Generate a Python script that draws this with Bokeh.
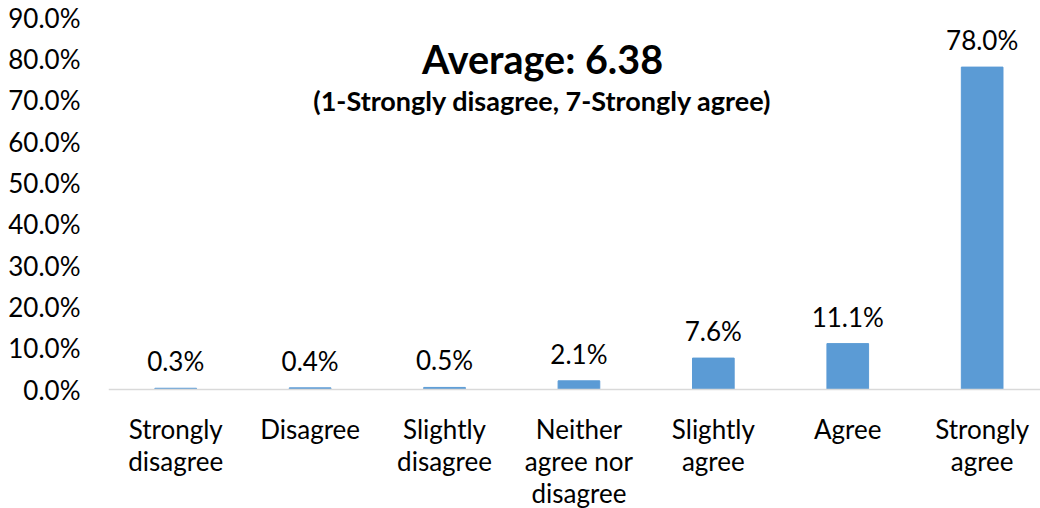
from bokeh.plotting import figure
from bokeh.models import ColumnDataSource, FixedTicker, NumeralTickFormatter, Label, Range1d, Span
from bokeh.core.properties import value
from bokeh.embed import file_html
from bokeh.resources import INLINE

categories = ["Strongly\ndisagree", "Disagree", "Slightly\ndisagree", "Neither\nagree nor\ndisagree",
              "Slightly\nagree", "Agree", "Strongly\nagree"]
shares = [0.003, 0.004, 0.005, 0.021, 0.076, 0.111, 0.78]
y_ticks = [0.0, 0.1, 0.2, 0.3, 0.4, 0.5, 0.6, 0.7, 0.8, 0.9]
title_text = "Average: 6.38"
subtitle_text = "(1-Strongly disagree, 7-Strongly agree)"

FONT = "Lato"

xs = list(range(len(categories)))
src = ColumnDataSource(dict(x=xs, y=shares, base=[0.0] * len(xs), cat=categories,
                            lab=[f"{v*100:.1f}%" for v in shares]))

# frame: 108px left border, 17px top border; 0.9 spans 372px, room below 0 for category labels
p = figure(width=1040, height=508, output_backend="svg", toolbar_location=None,
           x_range=Range1d(-0.5, 6.434), y_range=Range1d(-0.2879, 0.9),
           min_border_left=108, min_border_right=0, min_border_top=17, min_border_bottom=0)
p.outline_line_color = None
p.xgrid.visible = False
p.ygrid.visible = False
p.xaxis.visible = False
p.background_fill_color = "white"
p.border_fill_color = "white"

p.add_layout(Span(location=0, dimension="width", line_color="#d9d9d9", line_width=1.5))

p.vbar(x="x", top="y", width=0.31, source=src, color="#5b9bd5")
p.text(x="x", y="y", text="lab", source=src, text_align="center", text_baseline="bottom",
       y_offset=-11, text_font=value(FONT), text_font_size="26px", text_color="black")
p.text(x="x", y="base", text="cat", source=src, text_align="center", text_baseline="top",
       y_offset=23, text_font=value(FONT), text_font_size="26px", text_line_height=1.01,
       text_color="black")

p.yaxis.ticker = FixedTicker(ticks=y_ticks)
p.yaxis.formatter = NumeralTickFormatter(format="0.0%")
p.yaxis.axis_line_color = None
p.yaxis.major_tick_line_color = None
p.yaxis.minor_tick_line_color = None
p.yaxis.major_label_standoff = 22
p.yaxis.major_label_text_font = FONT
p.yaxis.major_label_text_font_size = "26px"
p.yaxis.major_label_text_color = "black"

p.add_layout(Label(x=434, y=450, x_units="screen", y_units="screen", text=title_text,
                   text_font=FONT, text_font_size="39.5px", text_font_style="bold",
                   text_align="center", text_baseline="middle", text_color="black"))
p.add_layout(Label(x=434, y=408, x_units="screen", y_units="screen", text=subtitle_text,
                   text_font=FONT, text_font_size="27px", text_font_style="bold",
                   text_align="center", text_baseline="middle", text_color="black"))

open("out.html", "w").write(file_html(p, INLINE))
